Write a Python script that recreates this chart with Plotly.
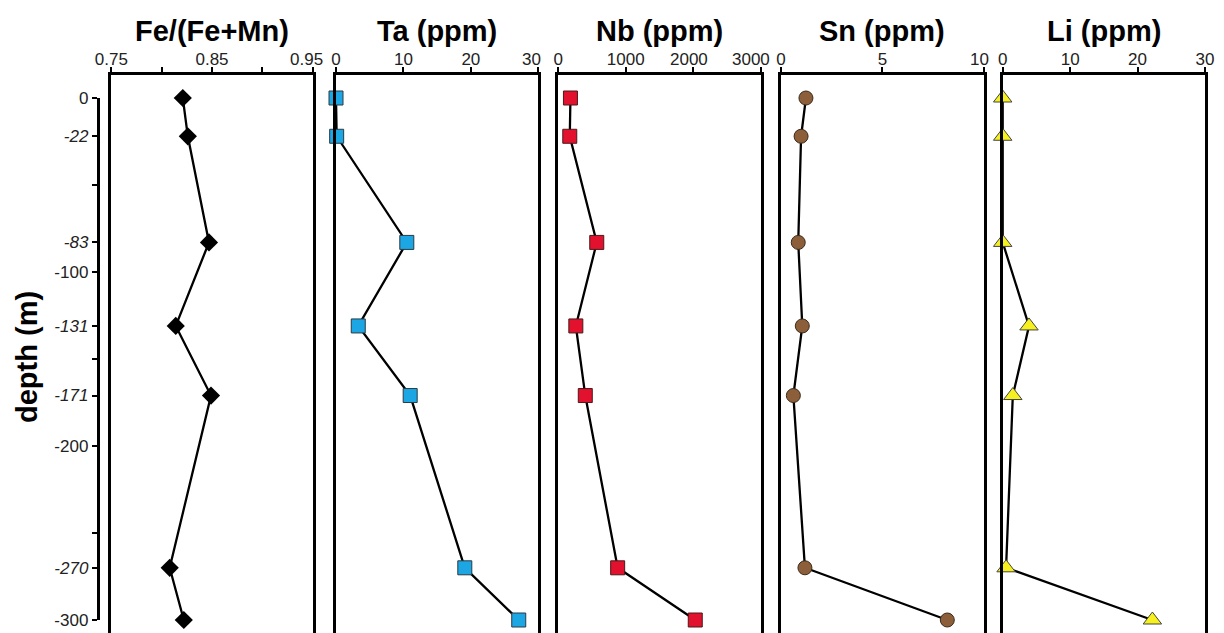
import plotly.graph_objects as go

# ---- data ----
depth = [0, -22, -83, -131, -171, -270, -300]
fe_ratio = [0.821, 0.826, 0.847, 0.814, 0.849, 0.808, 0.822]
ta_ppm = [0.0, 0.1, 10.5, 3.3, 11.0, 19.1, 27.1]
nb_ppm = [180, 170, 570, 260, 400, 880, 2030]
sn_ppm = [1.23, 0.99, 0.85, 1.05, 0.61, 1.18, 8.2]
li_ppm = [0.0, 0.0, 0.0, 3.9, 1.5, 0.5, 22.2]

panel_titles = ["Fe/(Fe+Mn)", "Ta (ppm)", "Nb (ppm)", "Sn (ppm)", "Li (ppm)"]
x_ranges = [[0.75, 0.95], [0, 30], [0, 3000], [0, 10], [0, 30]]
x_tickvals = [[0.75, 0.80, 0.85, 0.90, 0.95], [0, 10, 20, 30], [0, 1000, 2000, 3000],
              [0, 5, 10], [0, 10, 20, 30]]
# labels drawn directly on the ticks
x_ticktext = [["0.75", "", "0.85", "", ""], ["0", "10", "20", ""],
              ["0", "1000", "", ""], ["0", "5", ""], ["0", "10", "20", "30"]]
# end labels that the reference nudges left (panel index, value, text, shift px)
shifted_labels = [(0, 0.95, "0.95", -6), (1, 30, "30", -7), (2, 2000, "2000", -4),
                  (2, 3000, "3000", -10), (3, 10, "10", -4)]

depth_tickvals = [0, -22, -50, -83, -100, -131, -150, -171, -200, -250, -270, -300]
depth_ticktext = ["0", "<i>-22</i>", "", "<i>-83</i>", "-100", "<i>-131</i>", "",
                  "<i>-171</i>", "-200", "", "<i>-270</i>", "-300"]

series = [fe_ratio, ta_ppm, nb_ppm, sn_ppm, li_ppm]
symbols = ["diamond", "square", "square", "circle", "triangle-up"]
sizes = [14, 14, 14, 14, 16]
fills = ["#000000", "#1ca7e4", "#e2112d", "#8c5f3a", "#f5f01e"]
outlines = ["#000000", "#2a3a44", "#4a1a1a", "#3a2a1a", "#444444"]

# ---- layout geometry (screen pixels, page body has an 8px margin) ----
OFF = 8
W, H = 1224 - OFF, 633 - OFF
TOP = 75 - OFF
plot_h = H - TOP


def fx(px):
    return (px - OFF) / W


def fy(py):
    return (H - (py - OFF)) / plot_h


domains = [(111.3, 312.7), (336.0, 538.3), (558.3, 760.7), (781.0, 983.8), (1002.7, 1205.0)]
y_range = [-307.47, 13.22]
FONT = "Liberation Sans, Arial, sans-serif"
TICKFONT = dict(size=17, color="#222222", family=FONT)

fig = go.Figure()
for i in range(5):
    n = "" if i == 0 else str(i + 1)
    fig.add_trace(go.Scatter(
        x=series[i], y=depth, mode="lines+markers",
        xaxis="x" + n, yaxis="y" + n,
        line=dict(color="black", width=2.3),
        marker=dict(symbol=symbols[i], size=sizes[i], color=fills[i],
                    line=dict(color=outlines[i], width=1 if i else 0)),
        cliponaxis=False, showlegend=False, hoverinfo="x+y",
    ))

# dummy trace that carries the depth axis (on its own hidden x axis)
fig.add_trace(go.Scatter(x=[None], y=[None], xaxis="x6", yaxis="y6",
                         showlegend=False, hoverinfo="skip"))

layout = dict(
    width=W, height=H,
    margin=dict(l=0, r=0, t=TOP, b=0, pad=0, autoexpand=False),
    paper_bgcolor="white", plot_bgcolor="rgba(0,0,0,0)",
    font=dict(family=FONT, color="#222222"),
    showlegend=False,
)
annotations = []
for i in range(5):
    n = "" if i == 0 else str(i + 1)
    d0, d1 = domains[i]
    layout["xaxis" + n] = dict(
        domain=[fx(d0), fx(d1)], anchor="y" + n, side="top", automargin=False,
        range=x_ranges[i], tickmode="array", tickvals=x_tickvals[i], ticktext=x_ticktext[i],
        showline=True, linecolor="black", linewidth=2.5, mirror=False,
        ticks="outside", ticklen=5, tickwidth=2, tickcolor="black", ticklabelstandoff=-5,
        tickfont=TICKFONT, showgrid=False, zeroline=False, fixedrange=True,
    )
    layout["yaxis" + n] = dict(
        domain=[0, 1], anchor="x" + n, range=y_range, automargin=False,
        showline=True, linecolor="black", linewidth=2.5, mirror=True,
        ticks="", showticklabels=False, showgrid=False, zeroline=False, fixedrange=True,
    )
    annotations.append(dict(
        text="<b>%s</b>" % panel_titles[i], x=fx((d0 + d1) / 2), y=fy(31),
        xref="paper", yref="paper", xanchor="center", yanchor="middle", showarrow=False,
        font=dict(size=29, color="black", family=FONT),
    ))

for (pi, val, txt, shift) in shifted_labels:
    n = "" if pi == 0 else str(pi + 1)
    annotations.append(dict(
        text=txt, x=val, xref="x" + n, y=fy(59.5), yref="paper", xshift=shift,
        xanchor="center", yanchor="middle", showarrow=False, borderpad=0,
        font=TICKFONT,
    ))

layout["xaxis6"] = dict(domain=[0, 0.05], anchor="y6", range=[0, 1], visible=False,
                        automargin=False, fixedrange=True)
layout["yaxis6"] = dict(
    domain=[fy(620), fy(98)], anchor="free", position=fx(97.5),
    side="left", range=[-300, 0], tickmode="array", tickvals=depth_tickvals,
    ticktext=depth_ticktext, showline=True, linecolor="black", linewidth=2.5,
    ticks="outside", ticklen=5, tickwidth=2, tickcolor="black", automargin=False,
    tickfont=TICKFONT, showgrid=False, zeroline=False, fixedrange=True,
)
annotations.append(dict(
    text="<b>depth (m)</b>", x=fx(27), y=fy(357), xref="paper", yref="paper",
    xanchor="center", yanchor="middle", textangle=-90, showarrow=False,
    font=dict(size=29, color="black", family=FONT),
))
layout["annotations"] = annotations

fig.update_layout(**layout)
fig.write_html("out.html")
